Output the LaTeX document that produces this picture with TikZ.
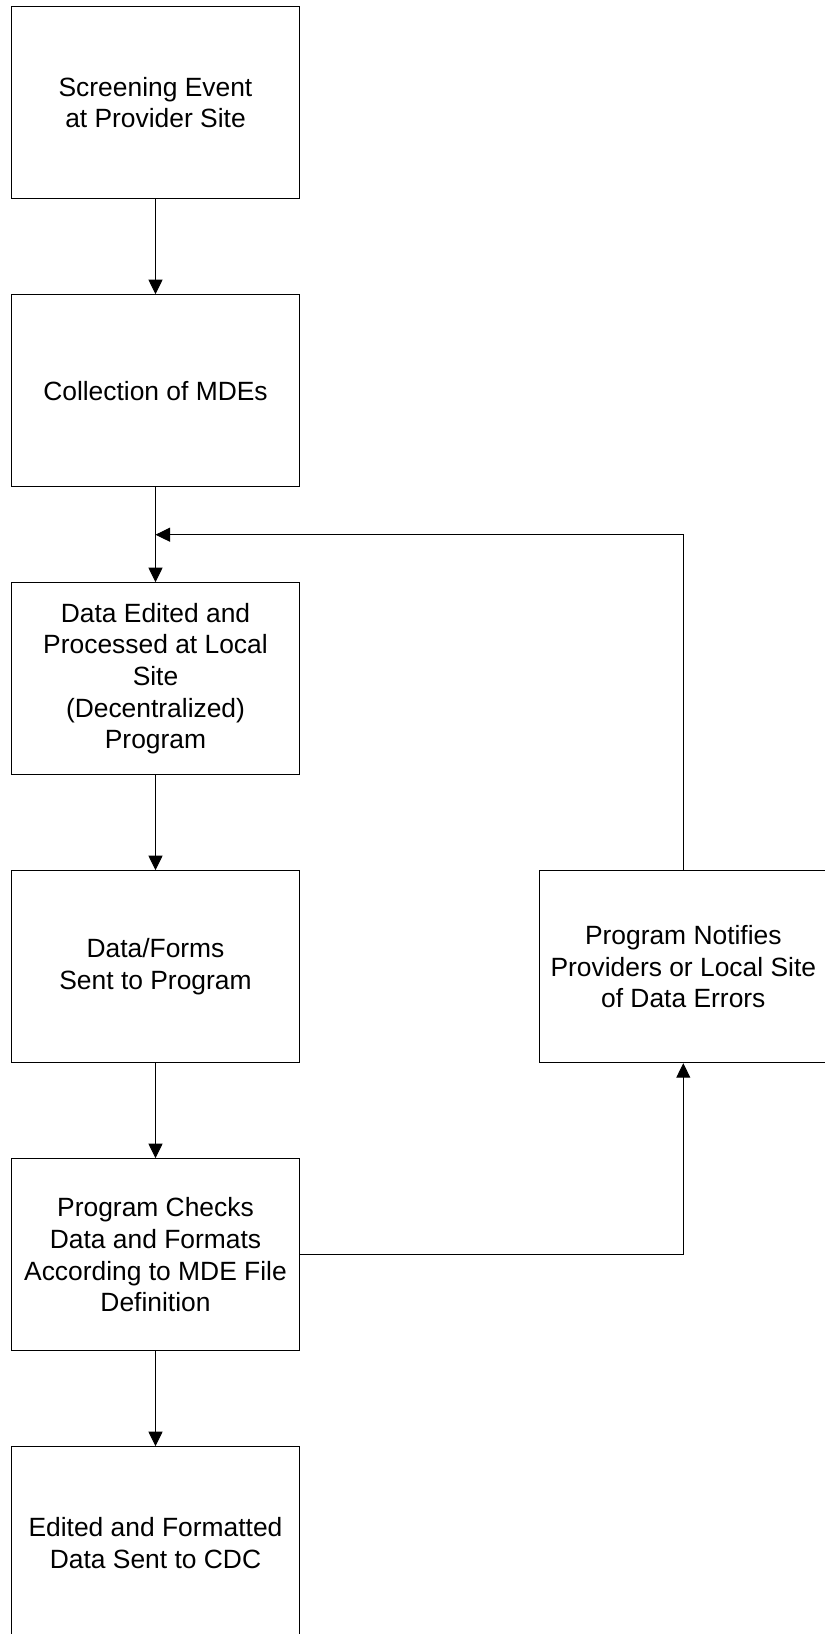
\documentclass[tikz,border=0pt]{standalone}
\usepackage{fontspec}
\setmainfont{Liberation Sans}
\usetikzlibrary{arrows.meta,calc}
\begin{document}
\begin{tikzpicture}[x=1pt,y=-1pt,
  boxnode/.style={draw=black,line width=1pt,minimum width=288pt,minimum height=192pt,inner sep=0pt,align=center,font=\fontsize{26.4}{31.7}\selectfont},
  conn/.style={line width=1pt,-{Triangle[length=14.5pt,width=14pt]}}]
\useasboundingbox (0,0) rectangle (825,1634);
\node[boxnode] (b1) at (155.5,102.7) {Screening Event\\at Provider Site};
\node[boxnode] (b2) at (155.5,390.7) {Collection of MDEs};
\node[boxnode] (b3) at (155.5,678.7) {Data Edited and\\Processed at Local\\Site\\(Decentralized)\\Program};
\node[boxnode] (b4) at (155.5,966.7) {Data/Forms\\Sent to Program};
\node[boxnode] (b5) at (155.5,1254.7) {Program Checks\\Data and Formats\\According to MDE File\\Definition};
\node[boxnode] (b6) at (155.5,1542.7) {Edited and Formatted\\Data Sent to CDC};
\node[boxnode] (r) at (683.3,966.7) {Program Notifies\\Providers or Local Site\\of Data Errors};
\coordinate (m) at ($(b2.south)!0.5!(b3.north)$);
\draw[conn] (b1) -- (b2);
\draw[conn] (b2) -- (b3);
\draw[conn] (b3) -- (b4);
\draw[conn] (b4) -- (b5);
\draw[conn] (b5) -- (b6);
\draw[conn] (b5.east) -| (r.south);
\draw[conn] (r.north) |- (m);
\end{tikzpicture}
\end{document}
